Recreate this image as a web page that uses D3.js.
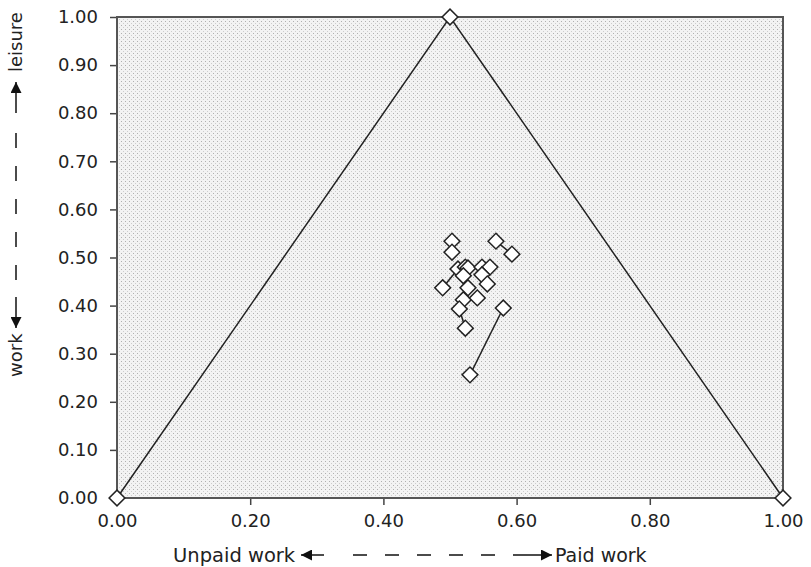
<!DOCTYPE html>
<html>
<head>
<meta charset="utf-8">
<script src="https://cdn.jsdelivr.net/npm/d3@7"></script>
<style>
  body { margin: 0; background: #fff; }
  text { font-family: "DejaVu Sans", "Liberation Sans", Arial, sans-serif; fill: #222; }
</style>
</head>
<body>
<svg width="811" height="567"></svg>
<script>
// triangle corners
const cornerX = [0, 0.5, 1];
const cornerY = [0, 1, 0];

// country points (paid share, leisure share)
const pointX = [0.503, 0.503, 0.569, 0.593, 0.512, 0.523, 0.527, 0.548, 0.560, 0.520, 0.548, 0.489, 0.527, 0.556, 0.520, 0.541, 0.514, 0.523, 0.580, 0.530];
const pointY = [0.534, 0.511, 0.534, 0.507, 0.476, 0.480, 0.478, 0.480, 0.480, 0.462, 0.464, 0.437, 0.437, 0.445, 0.412, 0.416, 0.393, 0.353, 0.395, 0.256];

// pairs joined by a line
const pairs = [[0, 1], [2, 3], [11, 4], [16, 17], [18, 19]];

const xTicks = [0, 0.2, 0.4, 0.6, 0.8, 1.0];
const yTicks = [0, 0.1, 0.2, 0.3, 0.4, 0.5, 0.6, 0.7, 0.8, 0.9, 1.0];

const svg = d3.select("svg");
const margin = {left: 117, top: 17, right: 28, bottom: 69};
const w = 811 - margin.left - margin.right,
      h = 567 - margin.top - margin.bottom;

const x = d3.scaleLinear().domain([0, 1]).range([0, w]);
const y = d3.scaleLinear().domain([0, 1]).range([h, 0]);

// stipple pattern for the plot area
const defs = svg.append("defs");
const pat = defs.append("pattern")
    .attr("id", "dots")
    .attr("width", 4).attr("height", 4)
    .attr("patternUnits", "userSpaceOnUse");
pat.append("rect").attr("width", 4).attr("height", 4).attr("fill", "#f3f3f3");
pat.append("rect").attr("x", 0).attr("y", 0).attr("width", 1).attr("height", 1).attr("fill", "#b0b0b0");
pat.append("rect").attr("x", 2).attr("y", 2).attr("width", 1).attr("height", 1).attr("fill", "#cdcdcd");

defs.append("marker")
    .attr("id", "arr")
    .attr("viewBox", "0 -5 10 10")
    .attr("refX", 10).attr("refY", 0)
    .attr("markerWidth", 12).attr("markerHeight", 11)
    .attr("markerUnits", "userSpaceOnUse")
    .attr("orient", "auto")
    .append("path")
    .attr("d", "M0,-5L10,0L0,5Z")
    .attr("fill", "#111");

const g = svg.append("g").attr("transform", `translate(${margin.left},${margin.top})`);

g.append("rect")
    .attr("width", w).attr("height", h)
    .attr("fill", "url(#dots)");

// axes
const xAxis = g.append("g")
    .attr("transform", `translate(0,${h})`)
    .call(d3.axisBottom(x).tickValues(xTicks).tickFormat(d3.format(".2f")).tickSizeOuter(0).tickSize(7).tickPadding(9));
const yAxis = g.append("g")
    .call(d3.axisLeft(y).tickValues(yTicks).tickFormat(d3.format(".2f")).tickSizeOuter(0).tickSize(7).tickPadding(12));

[xAxis, yAxis].forEach(a => {
    a.select(".domain").remove();
    a.selectAll("line").attr("stroke", "#444").attr("stroke-width", 1.5);
    a.selectAll("text").style("font-size", "18px").attr("fill", "#222");
});

// frame
g.append("rect")
    .attr("width", w).attr("height", h)
    .attr("fill", "none")
    .attr("stroke", "#555")
    .attr("stroke-width", 2);

// triangle
const tri = d3.line().x(d => x(d[0])).y(d => y(d[1]));
g.append("path")
    .attr("d", tri(cornerX.map((v, i) => [v, cornerY[i]])))
    .attr("fill", "none")
    .attr("stroke", "#222")
    .attr("stroke-width", 1.5);

// pair lines
g.append("g").selectAll("line")
    .data(pairs)
    .enter().append("line")
    .attr("x1", d => x(pointX[d[0]]))
    .attr("y1", d => y(pointY[d[0]]))
    .attr("x2", d => x(pointX[d[1]]))
    .attr("y2", d => y(pointY[d[1]]))
    .attr("stroke", "#222")
    .attr("stroke-width", 1.5);

const diamond = d3.symbol().type(d3.symbolSquare).size(125);

function drawDiamonds(xs, ys) {
    g.append("g").selectAll("path")
        .data(xs.map((v, i) => [v, ys[i]]))
        .enter().append("path")
        .attr("d", diamond)
        .attr("transform", d => `translate(${x(d[0])},${y(d[1])}) rotate(45)`)
        .attr("fill", "#fff")
        .attr("stroke", "#222")
        .attr("stroke-width", 1.5);
}
drawDiamonds(pointX, pointY);
drawDiamonds(cornerX, cornerY);

// x title
const xt = svg.append("g").attr("transform", "translate(0,555)");
xt.append("text").attr("x", 173).attr("y", 7).style("font-size", "19.5px").text("Unpaid work");
xt.append("line").attr("x1", 324).attr("x2", 301).attr("stroke", "#111").attr("stroke-width", 1.5).attr("marker-end", "url(#arr)");
xt.append("line").attr("x1", 353).attr("x2", 527)
    .attr("stroke", "#111").attr("stroke-width", 1.5).attr("stroke-dasharray", "14,18");
xt.append("line").attr("x1", 527).attr("x2", 552).attr("stroke", "#111").attr("stroke-width", 1.5).attr("marker-end", "url(#arr)");
xt.append("text").attr("x", 555).attr("y", 7).style("font-size", "19px").text("Paid work");

// y title
const yt = svg.append("g").attr("transform", "rotate(-90)");
yt.append("text").attr("x", -377).attr("y", 22).style("font-size", "18px").text("work");
yt.append("line").attr("x1", -297).attr("x2", -328).attr("y1", 16).attr("y2", 16)
    .attr("stroke", "#111").attr("stroke-width", 1.5).attr("marker-end", "url(#arr)");
yt.append("line").attr("x1", -280).attr("x2", -130).attr("y1", 16).attr("y2", 16)
    .attr("stroke", "#111").attr("stroke-width", 1.5).attr("stroke-dasharray", "15,18");
yt.append("line").attr("x1", -113).attr("x2", -82).attr("y1", 16).attr("y2", 16)
    .attr("stroke", "#111").attr("stroke-width", 1.5).attr("marker-end", "url(#arr)");
yt.append("text").attr("x", -72).attr("y", 22).style("font-size", "18px").text("leisure");
</script>
</body>
</html>
